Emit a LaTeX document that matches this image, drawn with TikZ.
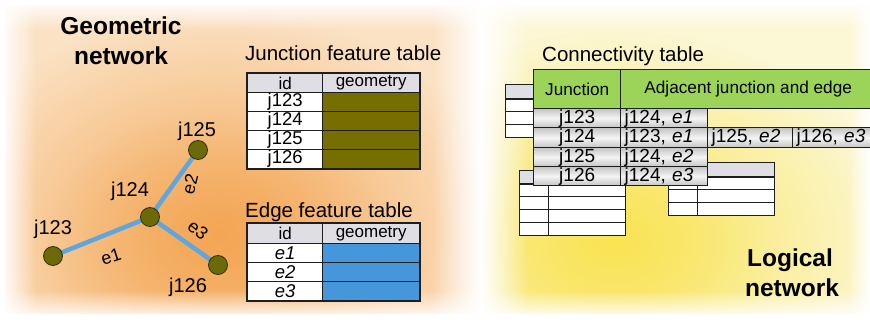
\documentclass[tikz,border=0pt]{standalone}
\usepackage{fontspec}
\setmainfont{Liberation Sans}
\usetikzlibrary{fadings}
\pgfdeclarelayer{bglayer}
\pgfdeclarelayer{edgelayer}
\pgfsetlayers{bglayer,edgelayer,main}
\newcommand\fsz[1]{\fontsize{#1}{#1}\selectfont}
\definecolor{peach}{RGB}{251,226,196}
\definecolor{orangeglow}{RGB}{244,166,84}
\definecolor{paleyel}{RGB}{252,247,212}
\definecolor{yelglow}{RGB}{249,228,84}
\definecolor{olivej}{RGB}{108,106,8}
\definecolor{olivedk}{RGB}{50,50,0}
\definecolor{olivegeo}{RGB}{118,110,0}
\definecolor{edgeblue}{RGB}{95,165,222}
\definecolor{geoblue}{RGB}{70,150,220}
\definecolor{hdrgray}{RGB}{222,222,228}
\definecolor{greenhdr}{RGB}{155,212,88}
\definecolor{cellgrayA}{RGB}{196,196,198}
\definecolor{cellgrayB}{RGB}{244,244,244}
\definecolor{linedk}{RGB}{30,30,30}
\tikzfading[name=radfade, inner color=transparent!0, outer color=transparent!100]
\tikzfading[name=fadeDown, top color=transparent!100, bottom color=transparent!0]
\tikzfading[name=fadeUp, top color=transparent!0, bottom color=transparent!100]
\tikzfading[name=fadeLeft, left color=transparent!0, right color=transparent!100]
\tikzfading[name=fadeRight, left color=transparent!100, right color=transparent!0]
\tikzfading[name=fadeGap, left color=transparent!100, right color=transparent!100, middle color=transparent!0]
\tikzset{
  junc/.style={circle, fill=olivej, draw=olivedk, line width=0.8, minimum size=19, inner sep=0},
  edgeline/.style={draw=edgeblue, line width=4.5},
  jlbl/.style={font=\fsz{20}, anchor=base, inner sep=0},
  elbl/.style={font=\fsz{18}, inner sep=0},
  bigtitle/.style={font=\fsz{24.5}\bfseries, anchor=base, inner sep=0},
  caption/.style={font=\fsz{20.5}, anchor=base west, inner sep=0},
  tcell/.style={draw=linedk, line width=1.4, anchor=north west, inner sep=0, font=\fsz{17}},
  hdrcell/.style={tcell, fill=hdrgray},
  whitecell/.style={tcell, fill=white, font=\fsz{18.5}},
  olivecell/.style={tcell, fill=olivegeo},
  bluecell/.style={tcell, fill=geoblue},
  greencell/.style={tcell, fill=greenhdr, font=\fsz{17.2}},
  graycell/.style={tcell, font=\fsz{19}, top color=cellgrayA, bottom color=cellgrayA, middle color=cellgrayB},
  graycellL/.style={graycell, align=left, inner xsep=4},
  bgcell/.style={draw=linedk, line width=1.3, anchor=north west, inner sep=0, fill=white},
  bghdr/.style={bgcell, fill=hdrgray},
}
\begin{document}
\begin{tikzpicture}[x=1pt,y=-1pt]
\useasboundingbox (0,0) rectangle (870,320);
% ---------- backgrounds ----------
\begin{pgfonlayer}{bglayer}
\fill[white] (0,0) rectangle (870,320);
\fill[peach] (0,0) rectangle (482,320);
\begin{scope}
  \clip (0,0) rectangle (482,320);
  \fill[orangeglow, path fading=radfade] (220,235) ellipse [x radius=290, y radius=225];
  \fill[orangeglow, path fading=radfade, opacity=0.5] (215,245) ellipse [x radius=170, y radius=130];
\end{scope}
\fill[paleyel] (482,0) rectangle (870,320);
\begin{scope}
  \clip (482,0) rectangle (870,320);
  \fill[yelglow, path fading=radfade] (615,240) ellipse [x radius=280, y radius=210];
  \fill[yelglow, path fading=radfade, opacity=0.5] (610,245) ellipse [x radius=160, y radius=120];
\end{scope}
\fill[white, path fading=fadeUp] (0,0) rectangle (870,30);
\fill[white] (0,0) rectangle (870,5);
\fill[white, path fading=fadeDown] (0,290) rectangle (870,320);
\fill[white] (0,314) rectangle (870,320);
\fill[white, path fading=fadeLeft] (0,0) rectangle (36,320);
\fill[white] (0,0) rectangle (5,320);
\fill[white, path fading=fadeGap] (432,0) rectangle (528,320);
\fill[white, path fading=fadeRight] (848,0) rectangle (870,320);
\end{pgfonlayer}

% ---------- geometric network ----------
\node[bigtitle] (gt1) at (121,35) {Geometric};
\node[bigtitle] (gt2) at (121,65) {network};

\node[junc] (j123) at (53,256) {};
\node[junc] (j124) at (150,217) {};
\node[junc] (j125) at (198,150) {};
\node[junc] (j126) at (218,265) {};
\begin{pgfonlayer}{edgelayer}
\draw[edgeline] (j123.center) -- (j124.center);
\draw[edgeline] (j124.center) -- (j125.center);
\draw[edgeline] (j124.center) -- (j126.center);
\end{pgfonlayer}

\node[jlbl] (l123) at (53,235) {j123};
\node[jlbl] (l124) at (130,197) {j124};
\node[jlbl] (l125) at (197,137) {j125};
\node[jlbl] (l126) at (188,293) {j126};
\node[elbl, rotate=18] (le1) at (111,257) {e1};
\node[elbl, rotate=76] (le2) at (190,184) {e2};
\node[elbl, rotate=-40] (le3) at (198,230) {e3};

% ---------- junction feature table ----------
\node[caption] (jcap) at (245,61) {Junction feature table};
\node[hdrcell, minimum width=75, minimum height=19] (jh1) at (247,73) {id};
\node[hdrcell, minimum width=97, minimum height=19] (jh2) at (322,73) {geometry};
\foreach \n/\y in {j123/92, j124/111, j125/130, j126/149}{
  \node[whitecell, minimum width=75, minimum height=19] (jid\n) at (247,\y) {\n};
  \node[olivecell, minimum width=97, minimum height=19] (jgeo\n) at (322,\y) {};
}
\draw[linedk, line width=1.8] (jh1.north west) rectangle (jgeoj126.south east);

% ---------- edge feature table ----------
\node[caption] (ecap) at (245,218) {Edge feature table};
\node[hdrcell, minimum width=75, minimum height=20] (eh1) at (247,223) {id};
\node[hdrcell, minimum width=97, minimum height=20] (eh2) at (322,223) {geometry};
\foreach \n/\y in {1/243, 2/262, 3/281}{
  \node[whitecell, minimum width=75, minimum height=19] (eid\n) at (247,\y) {\textit{e\n}};
  \node[bluecell, minimum width=97, minimum height=19] (egeo\n) at (322,\y) {};
}
\draw[linedk, line width=1.8] (eh1.north west) rectangle (egeo3.south east);

% ---------- logical network: background tables ----------
% table A
\node[bghdr, minimum width=60, minimum height=14] (a0) at (505,84) {};
\node[bgcell, minimum width=60, minimum height=13] (a1) at (505,98) {};
\node[bgcell, minimum width=60, minimum height=13] (a2) at (505,111) {};
\node[bgcell, minimum width=60, minimum height=13] (a3) at (505,124) {};
\draw[linedk, line width=2.2] (a0.south west) -- (a0.south east);
% table B
\node[bghdr, minimum width=29, minimum height=13] (b0a) at (519,170) {};
\node[bghdr, minimum width=77, minimum height=13] (b0b) at (548,170) {};
\foreach \k/\y in {1/183, 2/196, 3/209, 4/222}{
  \node[bgcell, minimum width=29, minimum height=13] (b\k a) at (519,\y) {};
  \node[bgcell, minimum width=77, minimum height=13] (b\k b) at (548,\y) {};
}
\draw[linedk, line width=2.2] (b0a.south west) -- (b0b.south east);
% table C
\node[bghdr, minimum width=29, minimum height=14] (c0a) at (668,162) {};
\node[bghdr, minimum width=77, minimum height=14] (c0b) at (697,162) {};
\foreach \k/\y in {1/176, 2/189, 3/202}{
  \node[bgcell, minimum width=29, minimum height=13] (c\k a) at (668,\y) {};
  \node[bgcell, minimum width=77, minimum height=13] (c\k b) at (697,\y) {};
}
\draw[linedk, line width=2.2] (c0a.south west) -- (c0b.south east);

% ---------- connectivity table ----------
\node[caption] (ccap) at (542,62) {Connectivity table};
\node[greencell, minimum width=87, minimum height=39] (gh1) at (533,69) {Junction};
\node[greencell, minimum width=255, minimum height=39] (gh2) at (620,69) {Adjacent junction and edge};
\node[graycell, minimum width=87, minimum height=19] (r1a) at (533,108) {j123};
\node[graycellL, text width=79, minimum height=19] (r1b) at (620,108) {j124, \textit{e1}};
\node[graycell, minimum width=87, minimum height=20] (r2a) at (533,127) {j124};
\node[graycellL, text width=79, minimum height=20] (r2b) at (620,127) {j123, \textit{e1}};
\node[graycellL, text width=77, minimum height=20] (r2c) at (707,127) {j125, \textit{e2}};
\node[graycellL, text width=75, minimum height=20] (r2d) at (792,127) {j126, \textit{e3}};
\node[graycell, minimum width=87, minimum height=19] (r3a) at (533,147) {j125};
\node[graycellL, text width=79, minimum height=19] (r3b) at (620,147) {j124, \textit{e2}};
\node[graycell, minimum width=87, minimum height=19] (r4a) at (533,166) {j126};
\node[graycellL, text width=79, minimum height=19] (r4b) at (620,166) {j124, \textit{e3}};

\node[bigtitle] (lt1) at (790,267) {Logical};
\node[bigtitle] (lt2) at (792,297) {network};
\end{tikzpicture}
\end{document}
